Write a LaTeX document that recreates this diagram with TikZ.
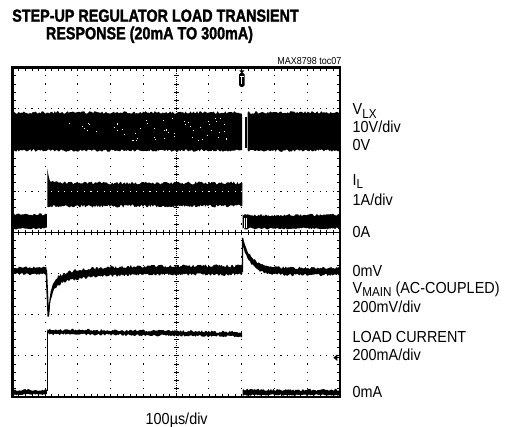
\documentclass[tikz,border=0pt]{standalone}
\usepackage{fontspec}
\setmainfont{Liberation Sans}
\newfontfamily\lblfont[FakeStretch=0.9]{Liberation Sans}
\newfontfamily\ttlfont[FakeStretch=0.82, BoldFeatures={FakeBold=1.6}]{Liberation Sans}
\newcommand\lsub[1]{\raisebox{-3.5pt}{\fontsize{13}{13}\selectfont #1}}
\newcommand\nband[5]{\fill plot[domain=#1:#2,samples=#5] (\x,{#3}) -- plot[domain=#2:#1,samples=#5] (\x,{#4}) -- cycle;}
\begin{document}
\begin{tikzpicture}[x=1pt,y=-1pt,
  lbl/.style={font=\lblfont\fontsize{16}{18}\selectfont, inner sep=0pt, anchor=base west},
  ttl/.style={font=\ttlfont\bfseries\fontsize{17.5}{20}\selectfont, inner sep=0pt, anchor=base},
  tick/.style={line width=0.8pt},
  frame/.style={line width=2.8pt}
]
\useasboundingbox (0,0) rectangle (507,427);
\pgfmathsetseed{7}
% ---- graticule dots
\foreach \i in {1,2,3,4,6,7,8,9}{
  \foreach \j in {1,...,39}{
    \fill ({12.3+32.77*\i-0.55},{67.5+8.2375*\j-0.55}) rectangle ++(1.1,1.1);
  }
}
\foreach \k in {1,2,3,5,6,7}{
  \foreach \j in {1,...,49}{
    \fill ({12.3+6.554*\j-0.55},{67.5+41.1875*\k-0.55}) rectangle ++(1.1,1.1);
  }
}
% ---- centre lines
\draw[line width=0.8pt, dash pattern=on 1pt off 1pt] (176.15,67.5) -- (176.15,397);
\draw[line width=1pt] (12.3,232.25) -- (340,232.25);
\foreach \j in {1,...,39}{
  \draw[tick] (173.65,{67.5+8.2375*\j}) -- (178.65,{67.5+8.2375*\j});
}
\foreach \j in {1,...,49}{
  \draw[tick] ({12.3+6.554*\j},229.75) -- ({12.3+6.554*\j},234.75);
}
% ---- edge ticks
\foreach \j in {1,...,49}{
  \draw[tick] ({12.3+6.554*\j},67.5) -- ++(0,3.2);
  \draw[tick] ({12.3+6.554*\j},397) -- ++(0,-3.2);
}
\foreach \j in {1,...,39}{
  \draw[tick] (12.3,{67.5+8.2375*\j}) -- ++(3.2,0);
  \draw[tick] (340,{67.5+8.2375*\j}) -- ++(-3.2,0);
}
% ---- V_LX trace
\nband{12.3}{242}{112.5+1.3*rand}{150.5+1.3*rand}{180}
\nband{247.5}{340}{112.5+1.3*rand}{150.5+1.3*rand}{70}
\fill (245.3,117) rectangle (246.5,148);
\foreach \i in {1,...,55}{
  \fill[white] ({55+185*rnd},{118+24*rnd}) rectangle ++(1,1);
}
% ---- I_L trace
\nband{12.3}{46.8}{214.5+1.2*rand}{228.5+1*rand}{25}
\nband{47.3}{242.3}{183+1.5*rand-13*exp(max(-9,-(\x-47.3)/2))}{206+1.5*rand}{160}
\nband{242.5}{340}{215+1.2*rand}{228.5+1*rand}{80}
\draw[white,line width=0.6pt] (244.5,218) -- (244.5,228) (246.5,218) -- (246.5,228);
\foreach \j in {6,...,35}{
  \fill[white] ({12.3+6.554*\j-0.5},190.6) rectangle ++(1.1,1.1);
}
% ---- V_MAIN trace
\nband{12.3}{46.5}{267.5+1*rand}{274+1*rand}{25}
\draw[line width=1.6pt] (46.3,270) -- (48.3,316.5) -- (49.3,305);
\nband{48.5}{242.3}{270.5+28*exp(max(-9,-(\x-48.5)/3))+14*exp(max(-9,-(\x-48.5)/25))-4.5+1.6*rand}{270.5+28*exp(max(-9,-(\x-48.5)/3))+14*exp(max(-9,-(\x-48.5)/25))+4+1.3*rand}{180}
\draw[line width=1.4pt] (242.4,272) -- (242.6,238);
\nband{242.5}{340}{271.5-30*exp(max(-9,-(\x-242.5)/9))-3.5+1.2*rand}{271.5-30*exp(max(-9,-(\x-242.5)/9))+3.5+1.2*rand}{80}
% ---- load current trace
\nband{12.3}{46.8}{390+1*rand}{394.5+0.8*rand}{25}
\draw[line width=0.4pt] (47.3,391) -- (47.3,331);
\nband{47.3}{242}{329.5+0.0128*(\x-47.3)+1.2*rand}{334+0.0128*(\x-47.3)+1*rand}{160}
\nband{242.5}{340}{390+1.2*rand}{395+0.8*rand}{80}
% ---- frame
\draw[frame] (12.3,67.5) rectangle (340,397);
% ---- trigger marker
\fill (239.3,70.3) -- (244.5,70.3) -- (241.9,73.5) -- cycle;
\fill[rounded corners=1.5pt] (239.2,73) rectangle (244.6,86.8);
\draw[white,line width=0.9pt] (240.3,76.2) -- (243.5,76.2) (241.9,76.2) -- (241.9,84.5);
% ---- ground marker
\fill (333.3,357.7) -- (337.3,354.5) -- (337.3,360.9) -- cycle;
\draw[line width=1pt] (337,357.7) -- (339,357.7);
% ---- texts
\node[ttl] (t1) at (155.5,21.7) {STEP-UP REGULATOR LOAD TRANSIENT};
\node[ttl] (t2) at (149.5,39.3) {RESPONSE (20mA TO 300mA)};
\node[font=\lblfont\fontsize{10}{11}\selectfont, inner sep=0pt, anchor=base east] (toc) at (341.5,64.3) {MAX8798 toc07};
\node[lbl] (vlx) at (352.5,115) {V\lsub{LX}};
\node[lbl] (vlxs) at (352.5,132.5) {10V/div};
\node[lbl] (vlxz) at (352.5,151) {0V};
\node[lbl] (il) at (352.5,185.5) {I\lsub{L}};
\node[lbl] (ils) at (352.5,205.5) {1A/div};
\node[lbl] (ilz) at (352.5,238) {0A};
\node[lbl] (vmz) at (352.5,277) {0mV};
\node[lbl] (vm) at (352.5,293.5) {V\lsub{MAIN} (AC-COUPLED)};
\node[lbl] (vms) at (352.5,313) {200mV/div};
\node[lbl] (lc) at (352.5,343) {LOAD CURRENT};
\node[lbl] (lcs) at (352.5,361) {200mA/div};
\node[lbl] (lcz) at (352.5,398) {0mA};
\node[lbl, anchor=base] (tb) at (176.7,424.5) {100µs/div};
\end{tikzpicture}
\end{document}
